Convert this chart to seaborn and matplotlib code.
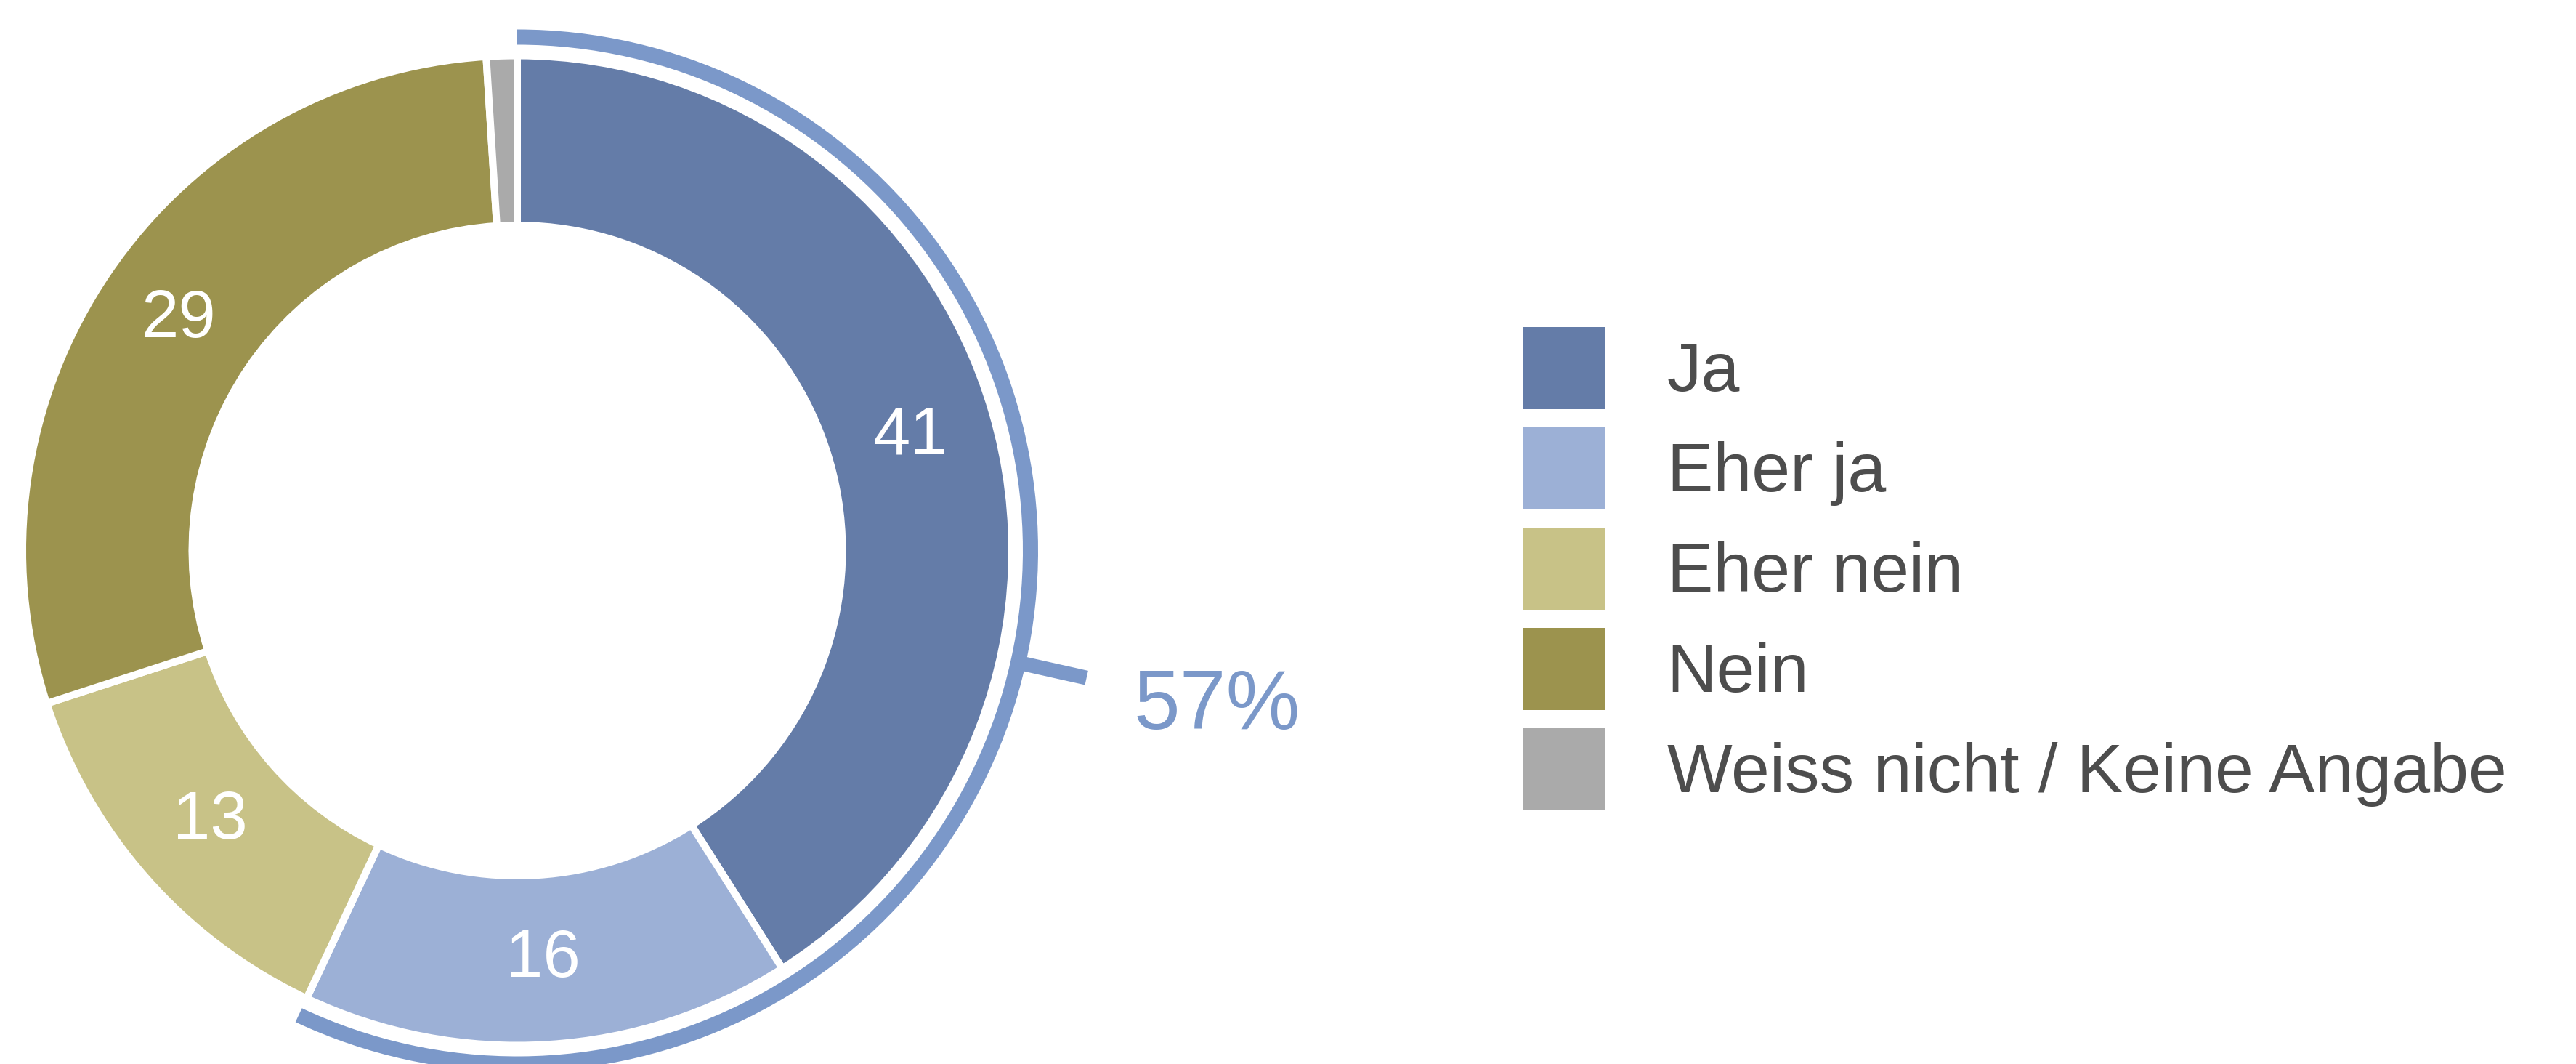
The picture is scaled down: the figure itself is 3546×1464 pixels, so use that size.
import numpy as np
import matplotlib
matplotlib.use("Agg")
import matplotlib.pyplot as plt
from matplotlib.patches import Patch
import seaborn as sns

# Daten
labels = ["Ja", "Eher ja", "Eher nein", "Nein", "Weiss nicht / Keine Angabe"]
values = [41, 16, 13, 29, 1]
colors = ["#647ca8", "#9cb0d6", "#c8c287", "#9c934e", "#aaaaaa"]
highlight_n = 2          # Ja + Eher ja
highlight_color = "#7b98c9"
text_color = "#4d4d4d"

sns.set_theme(style="white")
plt.rcParams["font.family"] = ["Liberation Sans", "DejaVu Sans"]

W, H = 3546, 1464
fig = plt.figure(figsize=(W / 100, H / 100), dpi=100)
ax = fig.add_axes([0, 0, 1, 1])

cx, cy = 712, H - 757.5
total = sum(values)

# Donut
ax.pie(values, colors=colors, startangle=90, counterclock=False,
       radius=681, center=(cx, cy), frame=True,
       wedgeprops=dict(width=233.5, edgecolor="white", linewidth=7.2))

# aeusserer Bogen fuer Ja + Eher ja
hl = sum(values[:highlight_n])
ax.pie([hl, total - hl], colors=[highlight_color, "none"], startangle=90,
       counterclock=False, radius=717, center=(cx, cy), frame=True,
       wedgeprops=dict(width=21, linewidth=0))

# Strich + Prozent
mid = np.deg2rad(90 - 360 * hl / total / 2)
ax.plot([cx + 716 * np.cos(mid), cx + 803 * np.cos(mid)],
        [cy + 716 * np.sin(mid), cy + 803 * np.sin(mid)],
        color=highlight_color, lw=14.4, solid_capstyle="butt")
ax.text(1675, H - 974, f"{round(100 * hl / total)}%", color=highlight_color,
        fontsize=82.5, ha="center", va="center")

# Werte in den Segmenten
cum = 0
for v in values:
    a = np.deg2rad(90 - 360 * (cum + v / 2) / total)
    cum += v
    if v < 5:
        continue
    ax.text(cx + 564 * np.cos(a), cy + 564 * np.sin(a), str(v), color="white",
            fontsize=66.5, ha="center", va="center")

ax.set_xlim(0, W)
ax.set_ylim(0, H)
ax.set_aspect("equal")
ax.axis("off")

# Legende
handles = [Patch(facecolor=c, edgecolor="none") for c in colors]
fs = 68.5
fpx = fs / 0.72
hh = (113 - 0.245 * fpx) / (0.65 * fpx)
fig.legend(handles, labels, loc="upper left",
           bbox_to_anchor=(2096 / W, 1 - 450 / H), frameon=False,
           fontsize=fs, handlelength=113 / fpx, handleheight=hh,
           handletextpad=0.9, labelspacing=25 / fpx, borderpad=0, borderaxespad=0,
           labelcolor=text_color)

fig.savefig("out.png", dpi=100)
